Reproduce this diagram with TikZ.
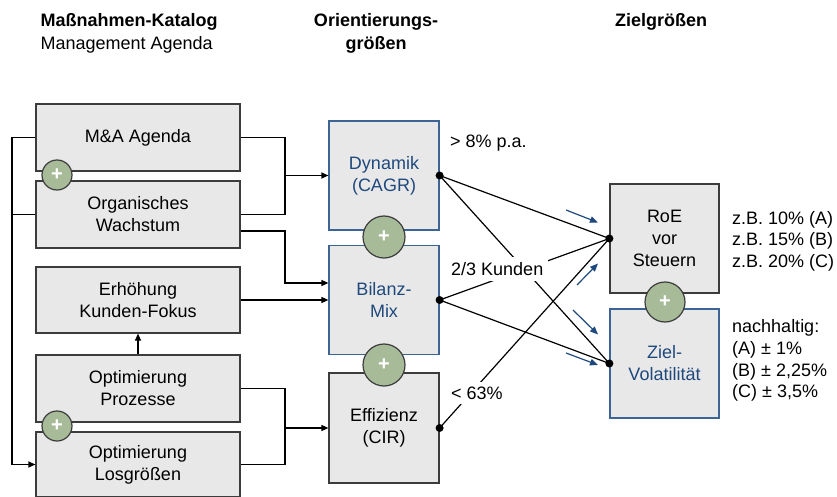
\documentclass[tikz,border=0pt]{standalone}
\usepackage{fontspec}
\setmainfont{Liberation Sans}
\usetikzlibrary{arrows.meta,calc}
\definecolor{boxfill}{RGB}{232,232,232}
\definecolor{boxdraw}{RGB}{60,60,60}
\definecolor{bluedraw}{RGB}{60,100,148}
\definecolor{bluetext}{RGB}{31,73,125}
\definecolor{plusfill}{RGB}{168,187,152}
\newcommand{\fsz}{\fontsize{18}{22}\selectfont}
\begin{document}
\begin{tikzpicture}[x=1pt,y=-1pt,
 every node/.style={font=\fsz},
 box/.style={draw=boxdraw, fill=boxfill, line width=1.2pt, rectangle, align=center, inner sep=0pt},
 lbox/.style={box, minimum width=204pt},
 mbox/.style={box, minimum width=110pt, minimum height=109pt},
 bluebox/.style={draw=bluedraw, text=bluetext},
 plus/.style={circle, draw=boxdraw, fill=plusfill, line width=1.2pt, text=white, font=\fontsize{20}{20}\selectfont\bfseries, inner sep=0pt},
 conn/.style={line width=1.2pt, draw=black},
 arr/.style={conn, -{Triangle[length=7pt,width=6pt]}},
 dot/.style={circle, fill=black, inner sep=0pt, minimum size=8pt},
 barr/.style={draw=bluetext, line width=1.2pt, -{Triangle[length=8pt,width=6.5pt]}},
 hdr/.style={font=\fsz\bfseries},
]
\useasboundingbox (0,0) rectangle (837,497);

% headers
\node[hdr, anchor=base west] (h1) at (37,27) {Maßnahmen-Katalog};
\node[anchor=base west] (h1b) at (37,49.5) {Management Agenda};
\node[hdr, anchor=base] (h2) at (376,27) {Orientierungs-};
\node[hdr, anchor=base] (h2b) at (376,49.5) {größen};
\node[hdr, anchor=base] (h3) at (661,27) {Zielgrößen};

% left boxes
\node[lbox, minimum height=67pt] (ma) at (138,137.5) {M\&A Agenda};
\node[lbox, minimum height=67pt] (org) at (138,214.5) {Organisches\\Wachstum};
\node[lbox, minimum height=66pt] (kf) at (138,300) {Erhöhung\\Kunden-Fokus};
\node[lbox, minimum height=67pt] (op) at (138,388.5) {Optimierung\\Prozesse};
\node[lbox, minimum height=65pt] (ol) at (138,464.5) {Optimierung\\Losgrößen};

% middle boxes
\node[mbox, bluebox] (dyn) at (384,175.5) {Dynamik\\(CAGR)};
\node[mbox, bluebox] (bil) at (384,300) {Bilanz-\\Mix};
\node[mbox, minimum height=110pt] (eff) at (384,428) {Effizienz\\(CIR)};

% right boxes
\node[mbox, minimum width=109pt] (roe) at (664.5,238.5) {RoE\\vor\\Steuern};
\node[mbox, bluebox, minimum width=109pt] (zv) at (664.5,363.5) {Ziel-\\Volatilität};

% plus circles
\node[plus, minimum size=30pt] (p1) at (57,175) {+};
\node[plus, minimum size=30pt] (p2) at (57,426) {+};
\node[plus, minimum size=42pt] (p3) at (384,237) {+};
\node[plus, minimum size=42pt] (p4) at (384,365) {+};
\node[plus, minimum size=40pt] (p5) at (665,302) {+};

% left connectors
\coordinate (fbx) at (12,0);
\coordinate (bx) at (285,0);
\draw[arr] (ma.west) -- (ma.west -| fbx) -- (ol.west -| fbx) -- (ol.west);
\draw[conn] (org.west) -- (org.west -| fbx);
\draw[conn] (ma.east) -- (ma.east -| bx) -- (org.east -| bx) -- (org.east);
\draw[arr] (bx |- dyn.west) -- (dyn.west);
\coordinate (o2) at ($(org.east)+(0,16.5)$);
\coordinate (b1) at ($(bil.west)+(0,-17)$);
\draw[arr] (o2) -- (o2 -| bx) -- (bx |- b1) -- (b1);
\draw[arr] (kf.east) -- (kf.east -| bil.west);
\draw[conn] (op.east) -- (op.east -| bx) -- (ol.east -| bx) -- (ol.east);
\draw[arr] (bx |- eff.west) -- (eff.west);
\draw[arr] (op.north) -- (kf.south);

% middle-right connectors
\draw[conn] (dyn.east) -- (roe.west);
\draw[conn] (dyn.east) -- (zv.west);
\draw[conn] (bil.east) -- (roe.west);
\draw[conn] (bil.east) -- (zv.west);
\draw[conn] (eff.east) -- (roe.west);

% labels
\node[anchor=west, inner sep=0pt] (l1) at (450,143) {> 8\% p.a.};
\node[anchor=west, fill=white, inner sep=5pt] (l2) at (446,269) {2/3 Kunden};
\node[anchor=west, fill=white, inner sep=4.5pt] (l3) at (446.5,393) {< 63\%};

% dots
\node[dot] (d1) at (dyn.east) {};
\node[dot] (d2) at (bil.east) {};
\node[dot] (d3) at (eff.east) {};
\node[dot] (d4) at (roe.west) {};
\node[dot] (d5) at (zv.west) {};

% blue arrows
\coordinate (a1s) at (566,210); \coordinate (a1e) at (598,222.5);
\coordinate (a2s) at (577,285); \coordinate (a2e) at (598,263.5);
\coordinate (a3s) at (573,310); \coordinate (a3e) at (598,334.5);
\coordinate (a4s) at (566,353); \coordinate (a4e) at (598,365);
\draw[barr] (a1s) -- (a1e);
\draw[barr] (a2s) -- (a2e);
\draw[barr] (a3s) -- (a3e);
\draw[barr] (a4s) -- (a4e);

% right texts
\node[anchor=west, align=left, inner sep=0pt, font=\fontsize{18}{21.5}\selectfont] (t1) at (732,241) {z.B. 10\% (A)\\z.B. 15\% (B)\\z.B. 20\% (C)};
\node[anchor=west, align=left, inner sep=0pt, font=\fontsize{18}{21.7}\selectfont] (t2) at (732,360.5) {nachhaltig:\\(A) ± 1\%\\(B) ± 2,25\%\\(C) ± 3,5\%};
\end{tikzpicture}
\end{document}
